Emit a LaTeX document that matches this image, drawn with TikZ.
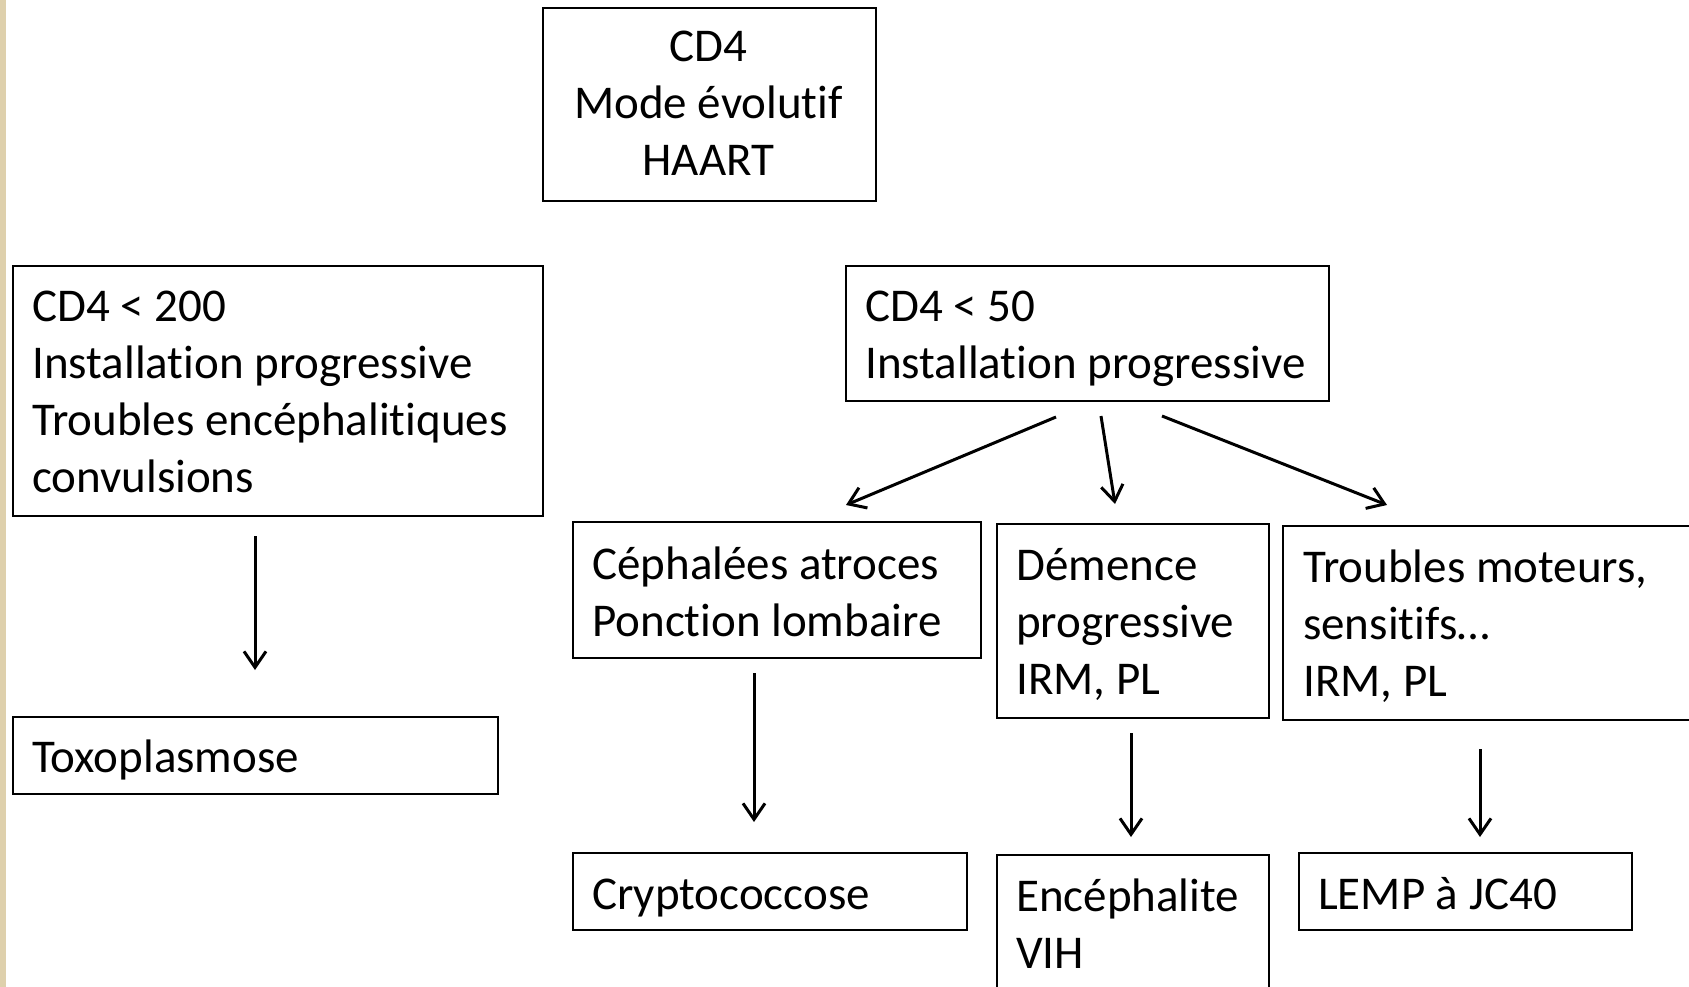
\documentclass[tikz,border=0pt]{standalone}
\usepackage{fontspec}
\setmainfont{Carlito}[Ligatures={NoCommon,NoContextual}]
\usetikzlibrary{arrows.meta}
\definecolor{strip}{RGB}{222,208,172}
\tikzset{
  boxnode/.style={draw=black, line width=2.4pt, rectangle, inner sep=0pt, anchor=north west},
  txt/.style={inner sep=0pt, anchor=base west, font=\fontsize{47}{57}\selectfont},
  ctxt/.style={inner sep=0pt, anchor=base, font=\fontsize{47}{57}\selectfont},
  arr/.style={line width=3pt, -{Straight Barb[length=16pt,width=22pt,line width=3pt]}}
}
\newcommand{\bx}[5]{\node[boxnode, minimum width=#4-#2, minimum height=#5-#3] (#1) at (#2,#3) {};}
\begin{document}
\begin{tikzpicture}[x=1pt,y=-1pt]
\useasboundingbox (0,0) rectangle (1689,987);
\fill[white] (0,0) rectangle (1689,987);
\fill[strip] (0,0) rectangle (6,987);
% boxes
\bx{top}{542}{7}{875}{200}
\bx{b200}{12}{265}{542}{515}
\bx{toxo}{12}{716}{497}{793}
\bx{b50}{845}{265}{1328}{400}
\bx{ceph}{572}{521}{980}{657}
\bx{dem}{996}{523}{1268}{717}
\bx{trou}{1282}{525}{1710}{719}
\bx{crypto}{572}{852}{966}{929}
\bx{enc}{996}{854}{1268}{1010}
\bx{lemp}{1298}{852}{1631}{929}
% texts
\node[ctxt] (ttop) at (708.5,62) {\parbox[t]{330pt}{\centering CD4\\Mode évolutif\\HAART}};
\node[txt] (tb200) at (32,321) {\parbox[t]{520pt}{\raggedright CD4 < 200\\Installation progressive\\Troubles encéphalitiques\\convulsions}};
\node[txt] (ttoxo) at (32,772) {Toxoplasmose};
\node[txt] (tb50) at (865,321) {\parbox[t]{470pt}{\raggedright CD4 < 50\\Installation progressive}};
\node[txt] (tceph) at (592,579) {\parbox[t]{400pt}{\raggedright Céphalées atroces\\Ponction lombaire}};
\node[txt] (tdem) at (1016,580) {\parbox[t]{260pt}{\raggedright Démence\\progressive\\IRM, PL}};
\node[txt] (ttrou) at (1303,582) {\parbox[t]{400pt}{\raggedright Troubles moteurs,\\sensitifs…\\IRM, PL}};
\node[txt] (tcrypto) at (592,909) {Cryptococcose};
\node[txt] (tenc) at (1016,911) {\parbox[t]{260pt}{\raggedright Encéphalite\\VIH}};
\node[txt] (tlemp) at (1318,909) {LEMP à JC40};
% arrow end points
\coordinate (d1s) at (1056,417); \coordinate (d1e) at (846,505);
\coordinate (d2s) at (1101,416); \coordinate (d2e) at (1115,504);
\coordinate (d3s) at (1162,416); \coordinate (d3e) at (1387,505);
\coordinate (v1s) at (255,536);  \coordinate (v1e) at (255,670);
\coordinate (v2s) at (754,673);  \coordinate (v2e) at (754,822);
\coordinate (v3s) at (1131,733); \coordinate (v3e) at (1131,837);
\coordinate (v4s) at (1480,749); \coordinate (v4e) at (1480,837);
\draw[arr] (d1s) -- (d1e);
\draw[arr] (d2s) -- (d2e);
\draw[arr] (d3s) -- (d3e);
\draw[arr] (v1s) -- (v1e);
\draw[arr] (v2s) -- (v2e);
\draw[arr] (v3s) -- (v3e);
\draw[arr] (v4s) -- (v4e);
\end{tikzpicture}
\end{document}
